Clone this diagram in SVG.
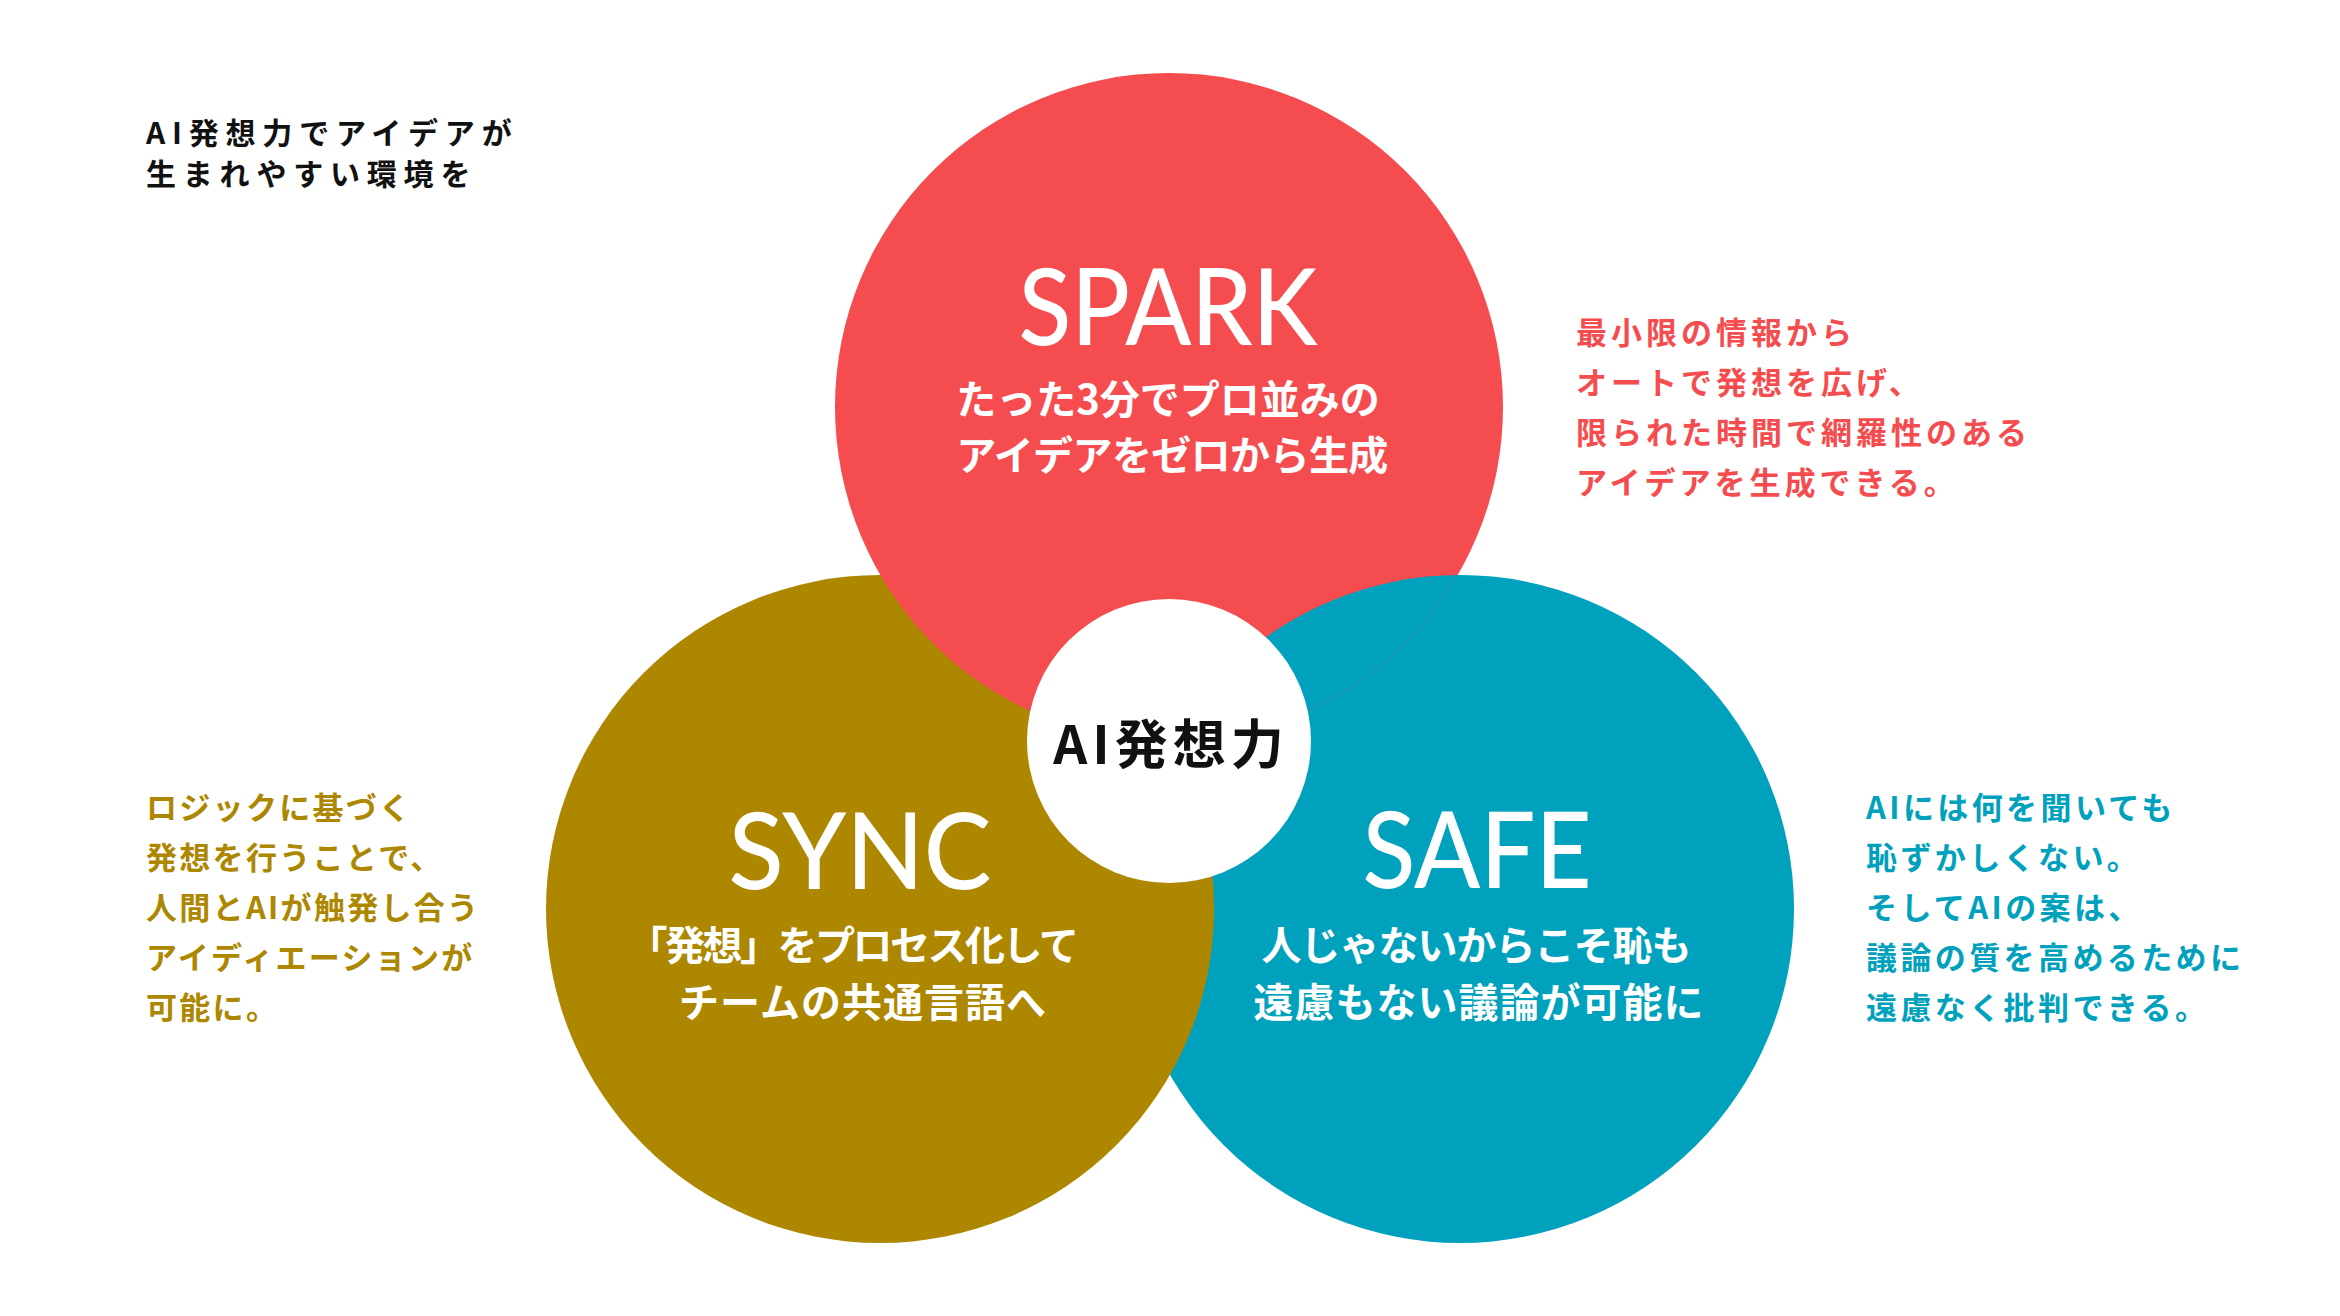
<svg xmlns="http://www.w3.org/2000/svg" width="2340" height="1316" viewBox="0 0 2340 1316">
<style>
.jp{font-family:'Noto Sans CJK JP','Noto Sans',sans-serif;font-weight:700}
.title{font-family:Lato,'Noto Sans',sans-serif;font-weight:500;fill:#fff;text-anchor:middle}
.sub{font-size:40px;fill:#fff;text-anchor:middle}
.desc{font-size:31px}
.red{fill:#F54D4F}
.gold{fill:#AD8700}
.teal{fill:#00A1BC}
</style>
<defs>
<clipPath id="clipRed"><circle cx="1169" cy="407" r="334"/></clipPath>
</defs>
<rect width="2340" height="1316" fill="#fff"/>

<g id="intro">
<text class="jp" x="146" y="144" font-size="30" letter-spacing="6.8" fill="#111">AI発想力でアイデアが</text>
<text class="jp" x="146" y="185" font-size="30" letter-spacing="6.8" fill="#111">生まれやすい環境を</text>
</g>

<g id="node-safe">
<circle class="teal" cx="1460" cy="909" r="334"/>
<text class="title" x="1477" y="888" font-size="106" textLength="229" lengthAdjust="spacingAndGlyphs">SAFE</text>
<text class="jp sub" x="1476" y="960" letter-spacing="-1">人じゃないからこそ恥も</text>
<text class="jp sub" x="1479" y="1017" letter-spacing="1">遠慮もない議論が可能に</text>
</g>

<g id="node-sync">
<circle class="gold" cx="880" cy="909" r="334"/>
<text class="title" x="860" y="889" font-size="106" textLength="263" lengthAdjust="spacingAndGlyphs">SYNC</text>
<text class="jp sub" x="852" y="960" letter-spacing="-2.5">「発想」をプロセス化して</text>
<text class="jp sub" x="863" y="1017" letter-spacing="1">チームの共通言語へ</text>
</g>

<g id="node-spark">
<circle class="red" cx="1169" cy="407" r="334"/>
<text class="title" x="1168" y="345" font-size="106" textLength="299" lengthAdjust="spacingAndGlyphs">SPARK</text>
<text class="jp sub" x="1168" y="414">たった3分でプロ並みの</text>
<text class="jp sub" x="1172" y="470" letter-spacing="-0.6">アイデアをゼロから生成</text>
</g>

<g id="overlap-safe-spark">
<circle class="teal" cx="1460" cy="909" r="334" clip-path="url(#clipRed)"/>
</g>

<g id="node-center">
<circle cx="1169" cy="741" r="142" fill="#fff"/>
<text class="jp" x="1171" y="764" font-size="53" letter-spacing="5" text-anchor="middle" fill="#111">AI発想力</text>
</g>

<g id="desc-spark" class="jp desc red">
<text x="1576" y="344" letter-spacing="4">最小限の情報から</text>
<text x="1576" y="394" letter-spacing="4">オートで発想を広げ、</text>
<text x="1576" y="444" letter-spacing="4">限られた時間で網羅性のある</text>
<text x="1576" y="494" letter-spacing="4">アイデアを生成できる。</text>
</g>

<g id="desc-sync" class="jp desc gold">
<text x="146" y="819" letter-spacing="2.3">ロジックに基づく</text>
<text x="146" y="869" letter-spacing="2.3">発想を行うことで、</text>
<text x="146" y="919" letter-spacing="2.3">人間とAIが触発し合う</text>
<text x="146" y="969" letter-spacing="2.3">アイディエーションが</text>
<text x="146" y="1019" letter-spacing="2.3">可能に。</text>
</g>

<g id="desc-safe" class="jp desc teal">
<text x="1866" y="819" letter-spacing="3.4">AIには何を聞いても</text>
<text x="1866" y="869" letter-spacing="3.4">恥ずかしくない。</text>
<text x="1866" y="919" letter-spacing="3.4">そしてAIの案は、</text>
<text x="1866" y="969" letter-spacing="3.4">議論の質を高めるために</text>
<text x="1866" y="1019" letter-spacing="3.4">遠慮なく批判できる。</text>
</g>
</svg>
